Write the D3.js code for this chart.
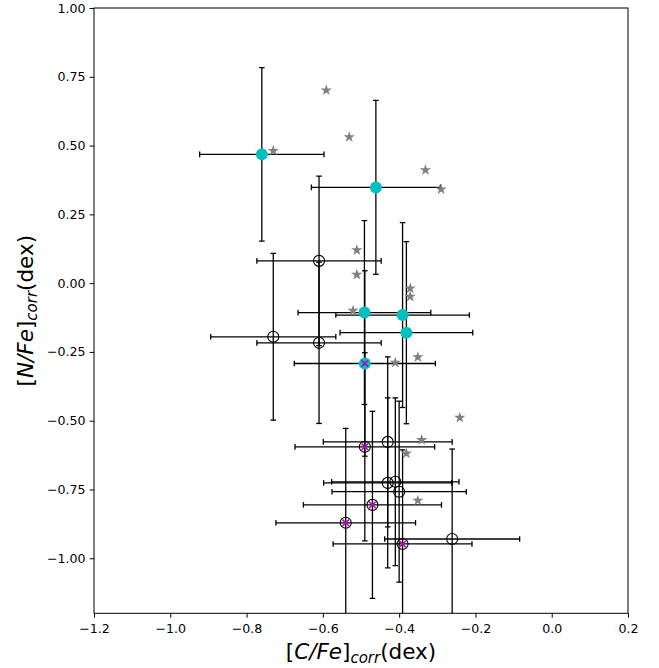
<!DOCTYPE html>
<html><head><meta charset="utf-8">
<script src="https://cdn.jsdelivr.net/npm/d3@7"></script>
<style>body{margin:0;background:#fff} svg{display:block}</style>
</head><body>
<script>
// ---- data ----
const xTicks = [-1.2, -1.0, -0.8, -0.6, -0.4, -0.2, 0.0, 0.2];
const yTicks = [1.0, 0.75, 0.5, 0.25, 0.0, -0.25, -0.5, -0.75, -1.0];

// cyan filled circles with error bars
const filledX    = [-0.760, -0.461, -0.491, -0.391, -0.381, -0.490];
const filledY    = [ 0.468,  0.348, -0.107, -0.116, -0.180, -0.292];
const filledXerr = [ 0.163,  0.169,  0.174,  0.175,  0.174,  0.185];
const filledYerr = [ 0.315,  0.316,  0.334,  0.336,  0.331,  0.337];
const filledCross = [0, 0, 0, 0, 0, 1];

// open circles with error bars
const openX    = [-0.610, -0.730, -0.610, -0.430, -0.430, -0.410, -0.400, -0.261, -0.490, -0.470, -0.540, -0.391];
const openY    = [ 0.081, -0.195, -0.217, -0.577, -0.726, -0.722, -0.758, -0.930, -0.595, -0.806, -0.871, -0.948];
const openXerr = [ 0.163,  0.164,  0.163,  0.169,  0.168,  0.167,  0.176,  0.177,  0.183,  0.181,  0.183,  0.182];
const openYerr = [ 0.308,  0.303,  0.293,  0.309,  0.309,  0.305,  0.329,  0.327,  0.342,  0.340,  0.343,  0.342];
const openCross = [0, 0, 0, 0, 0, 0, 0, 0, 1, 1, 1, 1];

// grey stars
const starX = [-0.591, -0.531, -0.730, -0.331, -0.290, -0.511, -0.511, -0.371, -0.371, -0.521, -0.351, -0.410, -0.241, -0.341, -0.381, -0.351];
const starY = [ 0.701,  0.531,  0.481,  0.411,  0.341,  0.120,  0.031, -0.019, -0.049, -0.100, -0.269, -0.289, -0.489, -0.570, -0.619, -0.790];

// ---- layout ----
const W = 659, H = 668;
const L = 94, T = 8, R = 628, B = 613.3;

const svg = d3.select("body").append("svg").attr("width", W).attr("height", H)
  .style("font-family", "DejaVu Sans, sans-serif");

const x = d3.scaleLinear().domain([-1.2, 0.2]).range([L, R]);
const y = d3.scaleLinear().domain([-1.2, 1.0]).range([B, T]);

svg.append("defs").append("clipPath").attr("id", "clip")
  .append("rect").attr("x", L).attr("y", T).attr("width", R - L).attr("height", B - T);

const plot = svg.append("g").attr("clip-path", "url(#clip)");

function pts(xs, ys, xe, ye, cr) {
  return xs.map((v, i) => ({x: v, y: ys[i], xe: xe[i], ye: ye[i], c: cr[i]}));
}
const filled = pts(filledX, filledY, filledXerr, filledYerr, filledCross);
const open = pts(openX, openY, openXerr, openYerr, openCross);
const all = open.concat(filled);

const cap = 2.8;
const eb = plot.append("g").attr("stroke", "#000").attr("stroke-width", 1.3).attr("fill", "none");
all.forEach(d => {
  const cx = x(d.x), cy = y(d.y);
  const x0 = x(d.x - d.xe), x1 = x(d.x + d.xe);
  const y0 = y(d.y + d.ye), y1 = y(d.y - d.ye);
  eb.append("line").attr("x1", x0).attr("x2", x1).attr("y1", cy).attr("y2", cy);
  eb.append("line").attr("x1", cx).attr("x2", cx).attr("y1", y0).attr("y2", y1);
  eb.append("line").attr("x1", x0).attr("x2", x0).attr("y1", cy - cap).attr("y2", cy + cap);
  eb.append("line").attr("x1", x1).attr("x2", x1).attr("y1", cy - cap).attr("y2", cy + cap);
  eb.append("line").attr("x1", cx - cap).attr("x2", cx + cap).attr("y1", y0).attr("y2", y0);
  eb.append("line").attr("x1", cx - cap).attr("x2", cx + cap).attr("y1", y1).attr("y2", y1);
});

// open circles
plot.append("g").selectAll("circle").data(open).join("circle")
  .attr("cx", d => x(d.x)).attr("cy", d => y(d.y)).attr("r", 5.5)
  .attr("fill", "none").attr("stroke", "#000").attr("stroke-width", 1.1);

// filled cyan
plot.append("g").selectAll("circle").data(filled).join("circle")
  .attr("cx", d => x(d.x)).attr("cy", d => y(d.y)).attr("r", 6)
  .attr("fill", "#00bfbf");

// magenta crosses
const crossed = all.filter(d => d.c);
const cs = 3.2;
const cg = plot.append("g").attr("stroke", "#bf00bf").attr("stroke-width", 1.6);
crossed.forEach(d => {
  const cx = x(d.x), cy = y(d.y);
  cg.append("line").attr("x1", cx - cs).attr("y1", cy - cs).attr("x2", cx + cs).attr("y2", cy + cs);
  cg.append("line").attr("x1", cx - cs).attr("y1", cy + cs).attr("x2", cx + cs).attr("y2", cy - cs);
});

// stars
const star = d3.symbol().type(d3.symbolStar).size(40);
plot.append("g").selectAll("path").data(starX.map((v, i) => ({x: v, y: starY[i]}))).join("path")
  .attr("transform", d => `translate(${x(d.x)},${y(d.y)})`)
  .attr("d", star).attr("fill", "#808080");

// frame
svg.append("rect").attr("x", L).attr("y", T).attr("width", R - L).attr("height", B - T)
  .attr("fill", "none").attr("stroke", "#000").attr("stroke-width", 1);

// axes
const fmtMinus = s => s.replace("-", "\u2212");
const xAxis = d3.axisBottom(x).tickValues(xTicks).tickSize(4.4).tickPadding(6.6)
  .tickFormat(d => fmtMinus(d3.format(".1f")(d)));
const yAxis = d3.axisLeft(y).tickValues(yTicks).tickSize(4.4).tickPadding(4)
  .tickFormat(d => fmtMinus(d3.format(".2f")(d)));

const gx = svg.append("g").attr("transform", `translate(0,${B})`).call(xAxis);
const gy = svg.append("g").attr("transform", `translate(${L},0)`).call(yAxis);
[gx, gy].forEach(g => {
  g.select(".domain").remove();
  g.selectAll("line").attr("stroke", "#000").attr("stroke-width", 1);
  g.selectAll("text").attr("fill", "#000").style("font-size", "12.6px")
    .style("font-family", "DejaVu Sans, sans-serif");
});

// axis labels
function mathLabel(g, sym) {
  const t = g.append("text").attr("text-anchor", "middle").style("font-size", "21.5px").attr("fill", "#000");
  t.append("tspan").text("[");
  t.append("tspan").style("font-style", "italic").text(sym);
  t.append("tspan").text("]");
  t.append("tspan").style("font-style", "italic").style("font-size", "15px").attr("dy", 3.5).text("corr");
  t.append("tspan").attr("dy", -3.5).text("(dex)");
  return t;
}
mathLabel(svg.append("g").attr("transform", `translate(${(L + R) / 2},${659})`), "C/Fe");
mathLabel(svg.append("g").attr("transform", `translate(${33},${(T + B) / 2}) rotate(-90)`), "N/Fe");
</script>
</body></html>
